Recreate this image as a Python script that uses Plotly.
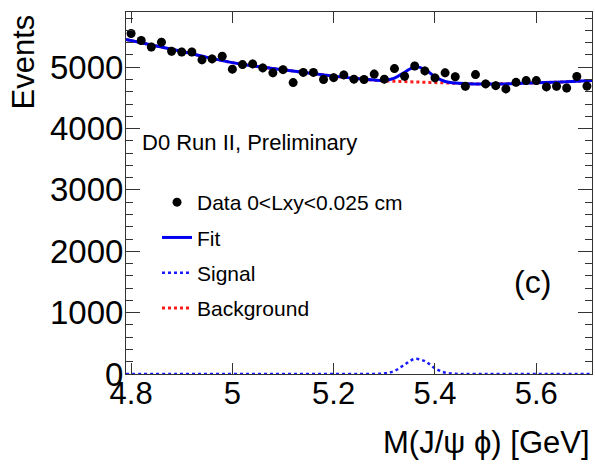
import plotly.graph_objects as go

# ---------------- data ----------------
mass = [4.80, 4.82, 4.84, 4.86, 4.88, 4.90, 4.92, 4.94, 4.96, 4.98,
        5.00, 5.02, 5.04, 5.06, 5.08, 5.10, 5.12, 5.14, 5.16, 5.18,
        5.20, 5.22, 5.24, 5.26, 5.28, 5.30, 5.32, 5.34, 5.36, 5.38,
        5.40, 5.42, 5.44, 5.46, 5.48, 5.50, 5.52, 5.54, 5.56, 5.58,
        5.60, 5.62, 5.64, 5.66, 5.68, 5.70]
events = [5549, 5435, 5330, 5408, 5261, 5248, 5248, 5120, 5136, 5178,
          4968, 5043, 5054, 4989, 4908, 4960, 4750, 4915, 4915, 4800,
          4830, 4875, 4805, 4800, 4888, 4805, 4978, 4852, 5020, 4940,
          4826, 4908, 4845, 4689, 4880, 4728, 4700, 4646, 4754, 4782,
          4782, 4679, 4690, 4662, 4848, 4692]
event_err = 70

curve_x = [4.79, 4.85, 4.90, 4.95, 5.00, 5.05, 5.10, 5.15, 5.20, 5.25,
           5.28, 5.30, 5.32, 5.34, 5.36, 5.38, 5.40, 5.42, 5.44, 5.46,
           5.50, 5.55, 5.60, 5.65, 5.71]
fit_y = [5451, 5345, 5258, 5160, 5075, 5010, 4960, 4905, 4855, 4812,
         4792, 4787, 4822, 4918, 5005, 4964, 4844, 4767, 4741, 4732,
         4727, 4732, 4745, 4760, 4782]
signal_y = [0, 0, 0, 0, 0, 0, 0, 0, 0, 0,
            2, 9, 50, 152, 245, 209, 94, 22, 3, 0,
            0, 0, 0, 0, 0]
background_y = [5451, 5345, 5258, 5160, 5075, 5010, 4960, 4905, 4855, 4812,
                4790, 4778, 4772, 4766, 4760, 4755, 4750, 4745, 4738, 4732,
                4727, 4732, 4745, 4760, 4782]

x_ticks = [4.8, 5.0, 5.2, 5.4, 5.6]
x_ticklabels = ["4.8", "5", "5.2", "5.4", "5.6"]
y_ticks = [0, 1000, 2000, 3000, 4000, 5000]
y_ticklabels = ["0", "1000", "2000", "3000", "4000", "5000"]

FONT = "Liberation Sans, Arial, Helvetica, sans-serif"

fig = go.Figure()

fig.add_trace(go.Scatter(
    x=curve_x, y=background_y, mode="lines", name="Background",
    line=dict(color="#ff1a1a", width=3, dash="dot", shape="spline"),
    legendrank=4, legendgroup="d"))
fig.add_trace(go.Scatter(
    x=curve_x, y=signal_y, mode="lines", name="Signal",
    line=dict(color="#1a1aff", width=2.5, dash="dot", shape="spline"),
    legendrank=3, legendgroup="c"))
fig.add_trace(go.Scatter(
    x=curve_x, y=fit_y, mode="lines", name="Fit",
    line=dict(color="#0000ee", width=3, shape="spline"),
    legendrank=2, legendgroup="b"))
fig.add_trace(go.Scatter(
    x=mass, y=events, mode="markers", name="Data 0<Lxy<0.025 cm",
    marker=dict(color="black", size=9),
    error_y=dict(type="constant", value=event_err, color="black",
                 thickness=1.2, width=0),
    legendrank=1, legendgroup="a"))

axis_common = dict(
    showline=True, linecolor="#333333", linewidth=1, mirror="ticks",
    ticks="inside", tickcolor="#333333", showgrid=False, zeroline=False,
    automargin=False,
)

fig.update_xaxes(
    range=[4.79, 5.71], tickvals=x_ticks, ticktext=x_ticklabels,
    ticklen=11, ticklabelstandoff=-8,
    tickfont=dict(family=FONT, size=31, color="black"),
    **axis_common)
fig.update_yaxes(
    range=[0, 5900], tickvals=y_ticks, ticktext=y_ticklabels,
    ticklen=14, ticklabelstandoff=-5,
    tickfont=dict(family=FONT, size=33, color="black"),
    minor=dict(dtick=200, ticklen=7, ticks="inside", tickcolor="#333333"),
    **axis_common)

fig.update_layout(
    width=595, height=468,
    margin=dict(l=126, r=3, t=12, b=94),
    paper_bgcolor="white", plot_bgcolor="white",
    font=dict(family=FONT, color="black"),
    showlegend=True,
    legend=dict(
        x=(157 - 126) / 466, y=(374 - 182) / 362, xanchor="left", yanchor="top",
        bgcolor="rgba(0,0,0,0)", font=dict(family=FONT, size=21),
        itemwidth=30, tracegroupgap=5, traceorder="grouped"),
    annotations=[
        dict(text="Events", xref="paper", yref="paper", x=-0.219, y=1.0,
             xanchor="center", yanchor="top", textangle=-90, showarrow=False,
             font=dict(family=FONT, size=31)),
        dict(text="M(J/ψ ϕ) [GeV]", xref="paper", yref="paper", x=1.0, y=0,
             xanchor="right", yanchor="middle", yshift=-68, showarrow=False,
             font=dict(family=FONT, size=31)),
        dict(text="D0 Run II, Preliminary", xref="paper", yref="paper",
             x=(140 - 126) / 466, y=(374 - 142) / 362, xanchor="left",
             yanchor="middle", showarrow=False, font=dict(family=FONT, size=22)),
        dict(text="(c)", xref="paper", yref="paper",
             x=(532 - 126) / 466, y=(374 - 282) / 362, xanchor="center",
             yanchor="middle", showarrow=False, font=dict(family=FONT, size=32)),
    ],
)

fig.write_html("out.html", config={"displayModeBar": False},
               post_script="document.body.style.margin='0px';document.body.style.padding='0px';")
